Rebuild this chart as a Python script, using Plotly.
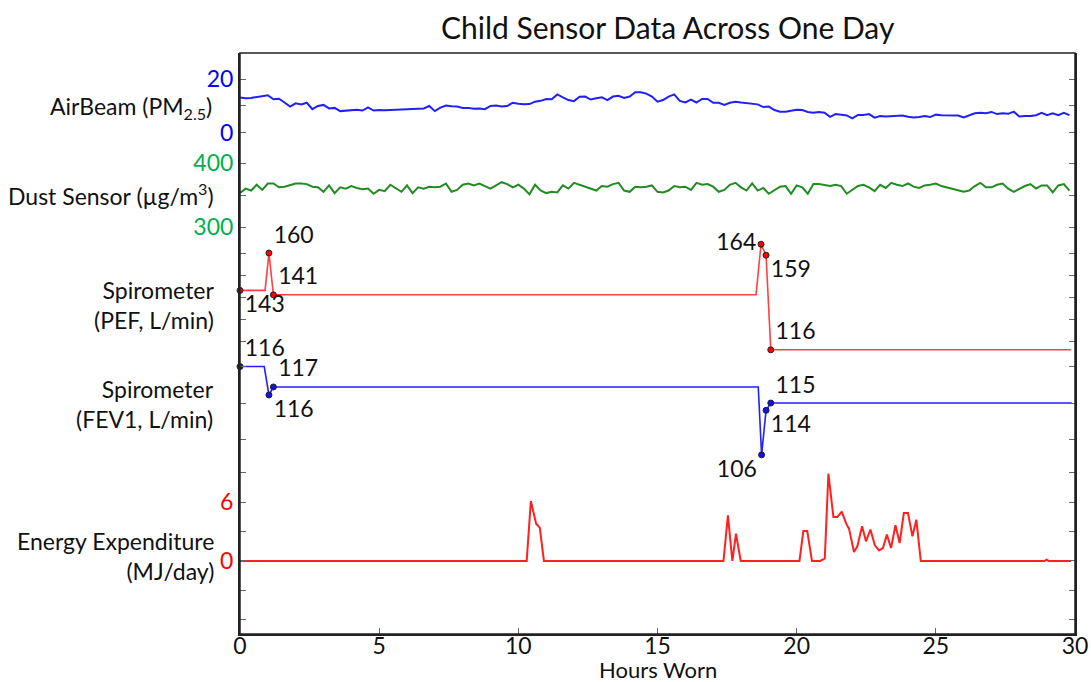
import numpy as np
import plotly.graph_objects as go

FONT = "Lato"
FS = 23

# ---------------- data ----------------
air_start, air_step = 0.0, 0.2
air_pm25 = [13.1, 12.9, 13.0, 13.4, 13.6, 14.0, 12.5, 12.7, 11.3, 9.8,
            11.0, 10.6, 11.2, 8.8, 10.0, 10.4, 9.1, 9.3, 8.1, 8.2,
            8.3, 8.6, 8.3, 9.5, 8.3, 8.5, 8.4, 8.5, 8.5, 8.5,
            8.8, 8.9, 9.0, 9.1, 10.0, 8.1, 9.4, 10.2, 9.9, 9.8,
            9.3, 9.3, 9.0, 9.1, 8.8, 10.0, 10.2, 9.8, 10.0, 11.2,
            10.8, 10.6, 10.7, 11.6, 11.9, 12.6, 12.5, 14.3, 13.2, 12.2,
            11.8, 13.4, 13.5, 12.4, 12.9, 13.2, 12.2, 13.5, 13.8, 13.0,
            13.5, 15.1, 15.1, 14.6, 13.5, 11.6, 12.2, 13.5, 14.3, 11.9,
            11.3, 12.4, 11.3, 12.6, 12.6, 11.2, 11.2, 10.4, 11.2, 11.6,
            11.3, 11.1, 11.0, 10.6, 9.6, 9.8, 8.5, 7.9, 7.9, 8.3,
            8.6, 8.5, 7.8, 7.5, 7.8, 7.5, 6.0, 7.0, 6.7, 6.5,
            5.4, 6.7, 6.7, 7.0, 5.7, 6.3, 6.1, 6.3, 6.5, 6.5,
            6.0, 5.7, 5.9, 6.3, 5.9, 6.8, 6.6, 6.5, 6.6, 6.5,
            5.8, 6.5, 7.3, 7.5, 7.3, 7.8, 7.0, 7.3, 7.1, 7.9,
            6.1, 6.3, 6.3, 6.6, 7.5, 6.6, 7.3, 6.6, 7.5, 6.6]

dust_start, dust_step = 0.0, 0.2
dust_ugm3 = [353, 360, 357, 366, 358, 368, 368, 362, 363, 366,
             368, 368, 367, 363, 362, 355, 365, 353, 362, 360,
             364, 361, 359, 360, 352, 358, 356, 366, 360, 355,
             365, 353, 362, 360, 363, 362, 363, 368, 355, 358,
             366, 368, 365, 368, 364, 360, 365, 370, 367, 362,
             366, 360, 351, 366, 357, 353, 355, 354, 365, 360,
             369, 366, 363, 360, 357, 364, 363, 367, 369, 357,
             355, 363, 362, 363, 365, 355, 354, 357, 364, 362,
             363, 358, 369, 366, 367, 363, 355, 358, 366, 369,
             362, 357, 368, 357, 361, 352, 357, 363, 364, 352,
             365, 362, 352, 367, 367, 365, 364, 366, 364, 352,
             358, 364, 366, 362, 356, 366, 361, 369, 366, 364,
             368, 363, 361, 365, 366, 368, 364, 362, 360, 358,
             355, 357, 364, 369, 362, 362, 366, 368, 360, 355,
             360, 364, 367, 360, 365, 365, 354, 365, 367, 357]

pef_hours = [0.0, 0.9, 1.04, 1.2, 18.54, 18.72, 18.9, 19.07, 29.85]
pef_values = [143, 143, 160, 141, 141, 164, 159, 116, 116]
pef_mark_hours = [0.0, 1.04, 1.2, 18.72, 18.9, 19.07]
pef_mark_values = [143, 160, 141, 164, 159, 116]
pef_mark_labels = ["143", "160", "141", "164", "159", "116"]
pef_label_pos = ["bottom right", "top right", "top right", "middle left", "bottom right", "top right"]

fev_hours = [0.0, 0.87, 1.04, 1.2, 18.62, 18.74, 18.9, 19.07, 29.88]
fev_values = [120, 120, 116.1, 117.2, 117.2, 107.9, 114.0, 115.0, 115.0]
fev_mark_hours = [0.0, 1.04, 1.2, 18.74, 18.9, 19.07]
fev_mark_values = [120, 116.1, 117.2, 107.9, 114.0, 115.0]
fev_mark_labels = ["116", "116", "117", "106", "114", "115"]
fev_label_pos = ["top right", "bottom right", "top right", "bottom left", "bottom right", "top right"]

energy_hours = [0.0, 10.3, 10.45, 10.64, 10.77, 10.92, 17.37, 17.53, 17.69, 17.82,
                17.99, 20.10, 20.24, 20.38, 20.55, 20.84, 21.01, 21.14, 21.32, 21.46,
                21.62, 21.78, 21.88, 22.06, 22.18, 22.35, 22.49, 22.65, 22.81, 22.96,
                23.10, 23.24, 23.39, 23.55, 23.70, 23.85, 24.00, 24.16, 24.30, 24.46,
                28.90, 28.98, 29.06, 29.86]
energy_mj = [0, 0, 6.1, 3.8, 3.4, 0, 0, 4.65, 0, 2.78,
             0, 0, 3.05, 3.05, 0, 0, 0.24, 8.88, 4.47, 4.47,
             5.02, 3.8, 3.29, 0.92, 1.49, 3.53, 2.0, 3.19, 1.59, 1.08,
             1.32, 2.68, 1.32, 3.63, 1.83, 4.88, 4.88, 2.51, 4.2, 0,
             0, 0.14, 0, 0]

x_ticks = [0, 5, 10, 15, 20, 25, 30]

air_hours = [round(air_start + air_step * i, 2) for i in range(len(air_pm25))]
dust_hours = [round(dust_start + dust_step * i, 2) for i in range(len(dust_ugm3))]

# ---------------- figure ----------------
BLUE = "#2020ff"
GREEN = "#228b22"
RED = "#ff2020"
TICK = "#666666"

fig = go.Figure()
fig.add_trace(go.Scatter(x=air_hours, y=air_pm25, mode="lines",
                         line=dict(color=BLUE, width=2), yaxis="y"))
fig.add_trace(go.Scatter(x=dust_hours, y=dust_ugm3, mode="lines",
                         line=dict(color=GREEN, width=2), yaxis="y2"))
fig.add_trace(go.Scatter(x=pef_hours, y=pef_values, mode="lines",
                         line=dict(color="#ff4040", width=1.6), yaxis="y3"))
fig.add_trace(go.Scatter(x=pef_mark_hours, y=pef_mark_values, mode="markers+text",
                         marker=dict(color="#ff0000", size=6, line=dict(color="#222", width=1)),
                         text=pef_mark_labels, textposition=pef_label_pos,
                         textfont=dict(size=FS, color="#111", family=FONT), yaxis="y3",
                         cliponaxis=False))
fig.add_trace(go.Scatter(x=fev_hours, y=fev_values, mode="lines",
                         line=dict(color="#2020ff", width=1.6), yaxis="y4"))
fig.add_trace(go.Scatter(x=fev_mark_hours, y=fev_mark_values, mode="markers+text",
                         marker=dict(color="#1010ee", size=6, line=dict(color="#222", width=1)),
                         text=fev_mark_labels, textposition=fev_label_pos,
                         textfont=dict(size=FS, color="#111", family=FONT), yaxis="y4",
                         cliponaxis=False))
fig.add_trace(go.Scatter(x=energy_hours, y=energy_mj, mode="lines",
                         line=dict(color=RED, width=2), yaxis="y5"))

def yax(domain, rng, tickvals, ticktext, color):
    return dict(domain=domain, range=rng, anchor="x", tickvals=tickvals, ticktext=ticktext,
                ticks="inside", ticklen=6, tickcolor=TICK, tickwidth=1,
                showline=True, linecolor="#222", linewidth=2, mirror="ticks",
                showgrid=False, zeroline=False, fixedrange=True, automargin=False,
                tickfont=dict(size=FS, color=color, family=FONT))

fig.update_layout(
    width=1091, height=682,
    margin=dict(l=240, r=16, t=53, b=48, autoexpand=False),
    paper_bgcolor="white", plot_bgcolor="white",
    showlegend=False,
    font=dict(family=FONT, size=FS, color="#111"),
    title=dict(text="Child Sensor Data Across One Day", x=0.612, xanchor="center",
               y=0.958, yanchor="middle", font=dict(size=30, color="#111", family=FONT)),
    xaxis=dict(domain=[0, 1], range=[0, 30], anchor="y5", tickvals=x_ticks,
               ticks="inside", ticklen=6, tickcolor=TICK, showline=True,
               linecolor="#222", linewidth=2, showgrid=False, zeroline=False,
               automargin=False, ticklabelstandoff=-10,
               tickfont=dict(size=FS, color="#111", family=FONT)),
    yaxis=yax([0.8365, 1.0], [-5.56, 29.63], [0, 10, 20], ["0", "", "20"], "#0000ff"),
    yaxis2=yax([0.6781, 0.8365], [279.69, 423.44], [300, 350, 400], ["300", "", "400"], "#00b050"),
    yaxis3=yax([0.4802, 0.6781], [113.64, 165.91], [120, 130, 140, 150, 160], [""] * 5, "#111"),
    yaxis4=yax([0.2960, 0.4802], [106.92, 121.58], [110, 115, 120], [""] * 3, "#111"),
    yaxis5=yax([0.0, 0.2960], [-7.43, 10.07], [-6, -3, 0, 3, 6, 9], ["", "", "0", "", "6", ""], "#ff0000"),
)

fig.add_shape(type="rect", xref="paper", yref="paper", x0=0, x1=1, y0=0, y1=1,
              line=dict(color="#222", width=1.5))

def py(p):
    return (634 - p) / 581.0

def px(p):
    return (p - 240) / 835.0

labels = [
    ("AirBeam (PM<sub>2.5</sub>)", 107, 214),
    ("Dust Sensor (µg/m<sup>3</sup>)", 195, 216),
    ("Spirometer<br>(PEF, L/min)", 305, 216),
    ("Spirometer<br>(FEV1, L/min)", 404, 216),
    ("Energy Expenditure<br>(MJ/day)", 556, 216),
]
for txt, yy, xx in labels:
    fig.add_annotation(text=txt, xref="paper", yref="paper", x=px(xx), y=py(yy),
                       xanchor="right", yanchor="middle", align="right", showarrow=False,
                       font=dict(size=FS, color="#111", family=FONT))

fig.add_annotation(text="Hours Worn", xref="paper", yref="paper", x=0.5, y=py(669),
                   xanchor="center", yanchor="middle", showarrow=False,
                   font=dict(size=22, color="#111", family=FONT))

fig.write_html("out.html")
